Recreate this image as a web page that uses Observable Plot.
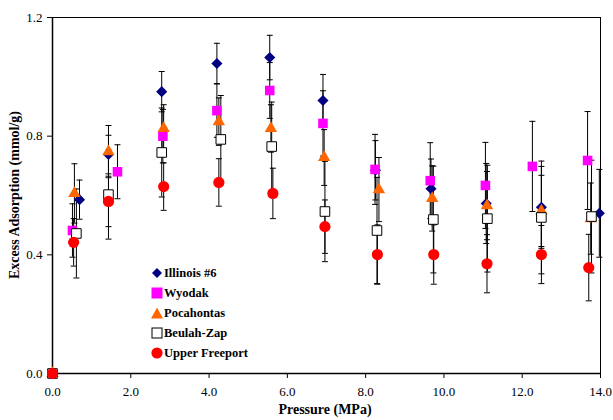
<!DOCTYPE html>
<html>
<head>
<meta charset="utf-8">
<script src="https://cdn.jsdelivr.net/npm/d3@7"></script>
<script src="https://cdn.jsdelivr.net/npm/@observablehq/plot@0.6"></script>
<style>
  body { margin: 0; background: #fff; }
  #wrap { position: relative; width: 613px; height: 420px; font-family: "Liberation Serif", serif; }
  #wrap svg text { font-family: "Liberation Serif", serif; }
  #legend { position: absolute; left: 150px; top: 263px; font-weight: bold; font-size: 12.5px; color: #000; }
  #legend .row { height: 20px; display: flex; align-items: center; }
  #legend svg { width: 14px; height: 14px; }
  .axis-title { position: absolute; font-weight: bold; font-size: 14px; color: #000; white-space: nowrap; line-height: 1; }
  #xtitle { left: 325px; top: 403px; transform: translateX(-50%); }
  #ytitle { left: 15px; top: 195px; transform: translate(-50%, -50%) rotate(-90deg); }
</style>
</head>
<body>
<div id="wrap"></div>
<script>
// Excess CO2 adsorption on five coals versus pressure, with error bars (± mmol/g)
const seriesNames = ["Illinois #6", "Wyodak", "Pocahontas", "Beulah-Zap", "Upper Freeport"];
const seriesColors = ["#000080", "#ff00ff", "#ff6600", "#ffffff", "#ff0000"];
const seriesSymbols = ["diamond2", "square", "triangle", "square", "circle"];

const illinoisP   = [0, 0.69, 1.43, 2.79, 4.20, 5.55, 6.91, 8.25, 9.67, 11.08, 12.49, 13.97];
const illinoisV   = [0, 0.586, 0.738, 0.950, 1.045, 1.065, 0.920, 0.685, 0.623, 0.573, 0.560, 0.540];
const illinoisErr = [0, 0.066, 0.065, 0.068, 0.068, 0.075, 0.088, 0.100, 0.100, 0.135, 0.138, 0.148];

const wyodakP   = [0, 0.51, 1.66, 2.82, 4.20, 5.55, 6.91, 8.24, 9.65, 11.06, 12.26, 13.67];
const wyodakV   = [0, 0.482, 0.680, 0.800, 0.886, 0.954, 0.843, 0.688, 0.650, 0.634, 0.698, 0.718];
const wyodakErr = [0, 0.090, 0.091, 0.090, 0.090, 0.094, 0.110, 0.118, 0.128, 0.145, 0.152, 0.165];

const pocahontasP   = [0, 0.56, 1.43, 2.84, 4.25, 5.58, 6.94, 8.34, 9.70, 11.10, 12.49, 13.75];
const pocahontasV   = [0, 0.607, 0.748, 0.826, 0.849, 0.826, 0.728, 0.620, 0.590, 0.566, 0.548, 0.522];
const pocahontasErr = [0, 0.100, 0.088, 0.080, 0.080, 0.080, 0.094, 0.108, 0.110, 0.115, 0.120, 0.120];

const beulahP   = [0, 0.61, 1.43, 2.79, 4.30, 5.60, 6.96, 8.29, 9.73, 11.11, 12.49, 13.77];
const beulahV   = [0, 0.472, 0.603, 0.745, 0.789, 0.765, 0.546, 0.482, 0.519, 0.522, 0.526, 0.529];
const beulahErr = [0, 0.150, 0.150, 0.150, 0.148, 0.150, 0.169, 0.179, 0.180, 0.180, 0.190, 0.190];

const freeportP   = [0, 0.54, 1.43, 2.84, 4.25, 5.63, 6.96, 8.30, 9.74, 11.10, 12.49, 13.70];
const freeportV   = [0, 0.442, 0.580, 0.630, 0.644, 0.607, 0.495, 0.401, 0.401, 0.370, 0.401, 0.357];
const freeportErr = [0, 0.080, 0.085, 0.080, 0.080, 0.085, 0.090, 0.100, 0.100, 0.098, 0.098, 0.112];

const xTicks = [0, 2, 4, 6, 8, 10, 12, 14];
const yTicks = [0, 0.4, 0.8, 1.2];
const xTitle = "Pressure (MPa)";
const yTitle = "Excess Adsorption (mmol/g)";

const seriesData = [
  [illinoisP, illinoisV, illinoisErr],
  [wyodakP, wyodakV, wyodakErr],
  [pocahontasP, pocahontasV, pocahontasErr],
  [beulahP, beulahV, beulahErr],
  [freeportP, freeportV, freeportErr]
];

const rows = seriesData.flatMap(([P, V, E], s) =>
  P.map((p, i) => ({series: seriesNames[s], s, p, v: V[i], e: E[i]})));
const withErr = rows.filter(d => d.e > 0);
const caps = withErr.flatMap(d => [{p: d.p, y: d.v - d.e}, {p: d.p, y: d.v + d.e}]);

// short horizontal stroke used as an error-bar cap
const capSymbol = {draw(ctx) { ctx.moveTo(-3, 0); ctx.lineTo(3, 0); }};

const radius = [5.0, 5.4, 4.6, 5.4, 5.6];
const markerMarks = seriesNames.map((name, s) =>
  Plot.dot(rows.filter(d => d.s === s), {
    x: "p", y: "v",
    symbol: () => seriesSymbols[s],
    r: radius[s],
    fill: seriesColors[s],
    stroke: s === 3 ? "#000" : "none",
    strokeWidth: 1
  }));

const chart = Plot.plot({
  width: 613,
  height: 420,
  marginLeft: 52,
  marginRight: 13,
  marginTop: 17,
  marginBottom: 47,
  style: {fontFamily: "Liberation Serif, serif", fontSize: "13px", background: "#fff", overflow: "visible"},
  x: {domain: [0, 14], ticks: xTicks, tickFormat: d3.format(".1f"), tickSize: 5, tickPadding: 8, label: null},
  y: {domain: [0, 1.2], ticks: yTicks, tickFormat: d3.format(".1f"), tickSize: 5, tickPadding: 5, label: null},
  marks: [
    Plot.frame({stroke: "#000", strokeWidth: 1}),
    Plot.ruleX(withErr, {x: "p", y1: d => d.v - d.e, y2: d => d.v + d.e, stroke: "#000", strokeWidth: 1}),
    Plot.dot(caps, {x: "p", y: "y", symbol: () => capSymbol, stroke: "#000", strokeWidth: 1, fill: "none"}),
    Plot.ruleY([0], {stroke: "#000", strokeWidth: 1.5}),
    Plot.ruleX([0], {stroke: "#000", strokeWidth: 1.5}),
    ...markerMarks
  ]
});

const wrap = document.getElementById("wrap");
wrap.appendChild(chart);

// axis titles
const xt = document.createElement("div");
xt.id = "xtitle"; xt.className = "axis-title"; xt.textContent = xTitle;
const yt = document.createElement("div");
yt.id = "ytitle"; yt.className = "axis-title"; yt.textContent = yTitle;
wrap.appendChild(xt);
wrap.appendChild(yt);

// legend, drawn inside the plot area
const legend = document.createElement("div");
legend.id = "legend";
const legendShapes = [
  `<path d="M7 2 L12 7 L7 12 L2 7 Z" fill="#000080"/>`,
  `<rect x="1.5" y="1.5" width="11" height="11" fill="#ff00ff"/>`,
  `<path d="M7 1.5 L13 12.5 L1 12.5 Z" fill="#ff6600"/>`,
  `<rect x="2" y="2" width="10" height="10" fill="#fff" stroke="#000" stroke-width="1"/>`,
  `<circle cx="7" cy="7" r="5.6" fill="#ff0000"/>`
];
seriesNames.forEach((name, i) => {
  const row = document.createElement("div");
  row.className = "row";
  row.innerHTML = `<svg viewBox="0 0 14 14">${legendShapes[i]}</svg><span>${name}</span>`;
  legend.appendChild(row);
});
wrap.appendChild(legend);
</script>
</body>
</html>
